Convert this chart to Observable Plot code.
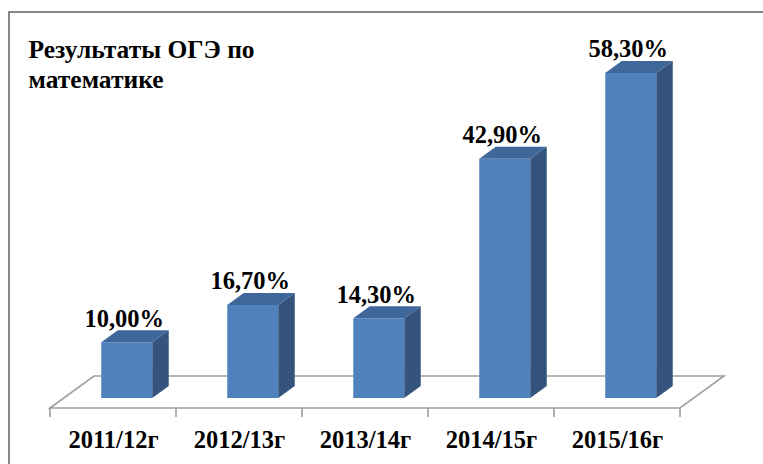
<!DOCTYPE html>
<html><head><meta charset="utf-8">
<script src="https://cdn.jsdelivr.net/npm/d3@7"></script>
<script src="https://cdn.jsdelivr.net/npm/@observablehq/plot@0.6"></script>
<style>
body{margin:0;background:#fff}
#wrap{position:relative;width:763px;height:464px;overflow:hidden}
#frame{position:absolute;left:8px;top:11px;width:900px;height:600px;border-left:2px solid #878787;border-top:2px solid #878787;box-shadow:1px 1px 2px rgba(0,0,0,0.25)}
#chart{position:absolute;left:0;top:0}
</style>
</head><body>
<div id="wrap"><div id="frame"></div><div id="chart"></div></div>
<script>
const categories = ["2011/12г", "2012/13г", "2013/14г", "2014/15г", "2015/16г"];
const values = [10.0, 16.7, 14.3, 42.9, 58.3];
const valueLabels = ["10,00%", "16,70%", "14,30%", "42,90%", "58,30%"];
const titleLines = ["Результаты ОГЭ по", "математике"];

const data = categories.map((c, i) => ({category: c, value: values[i], label: valueLabels[i]}));

// 3D projection of the floor depth (screen px)
const DEPTH_X = 44, DEPTH_Y = -32;
const FRONT = 10 / 32, BACK = 22 / 32;
const BAR_INSET = 37.5;
const FRONT_COLOR = "#4F81BD", TOP_COLOR = "#3F679A", SIDE_COLOR = "#34547E";
const FLOOR_COLOR = "#a0a0a0";
const FONT = "Liberation Serif";

function bw(x) {
  if (x.bandwidth) return x.bandwidth();
  return Math.abs(x(categories[1]) - x(categories[0]));
}

// floor + ticks (drawn behind bars)
function floorMark(index, scales) {
  const x = scales.x, y = scales.y;
  const b = bw(x);
  const x0 = x(categories[0]);
  const x1 = x(categories[categories.length - 1]) + b;
  const yb = y(0) - FRONT * DEPTH_Y; // floor front edge
  const g = d3.create("svg:g").attr("fill", "none").attr("stroke", FLOOR_COLOR).attr("stroke-width", 1.6);
  g.append("path").attr("d", `M${x0},${yb}L${x0 + DEPTH_X},${yb + DEPTH_Y}L${x1 + DEPTH_X},${yb + DEPTH_Y}L${x1},${yb}Z`);
  const bounds = categories.map(c => x(c)).concat([x1]);
  for (const bx of bounds) g.append("path").attr("d", `M${bx},${yb}L${bx},${yb + 9}`);
  return g.node();
}

// side and top faces of each bar
function facesMark(index, scales) {
  const x = scales.x, y = scales.y;
  const b = bw(x);
  const ox = FRONT * DEPTH_X;
  const dX = (BACK - FRONT) * DEPTH_X, dY = (BACK - FRONT) * DEPTH_Y;
  const g = d3.create("svg:g");
  data.forEach(d => {
    const xl = x(d.category) + ox + BAR_INSET;
    const xr = x(d.category) + ox + b - BAR_INSET;
    const yt = y(d.value), y0 = y(0);
    g.append("path").attr("fill", SIDE_COLOR)
      .attr("d", `M${xr},${yt}L${xr + dX},${yt + dY}L${xr + dX},${y0 + dY}L${xr},${y0}Z`);
    g.append("path").attr("fill", TOP_COLOR)
      .attr("d", `M${xl},${yt}L${xr},${yt}L${xr + dX},${yt + dY}L${xl + dX},${yt + dY}Z`);
  });
  return g.node();
}

const chart = Plot.plot({
  width: 763,
  height: 464,
  marginLeft: 48,
  marginRight: 81,
  marginTop: 63.5,
  marginBottom: 66,
  style: {background: "transparent", overflow: "visible"},
  x: {type: "band", domain: categories, padding: 0, axis: null},
  y: {domain: [0, 60], axis: null},
  marks: [
    floorMark,
    Plot.barY(data, {x: "category", y: "value", fill: FRONT_COLOR, insetLeft: BAR_INSET, insetRight: BAR_INSET, dx: FRONT * DEPTH_X}),
    facesMark,
    Plot.text(data, {x: "category", y: "value", text: "label", dx: FRONT * DEPTH_X - 3, dy: -16, lineAnchor: "bottom",
      fontFamily: FONT, fontSize: 24.5, fontWeight: "bold", fill: "#000"}),
    Plot.text(categories, {x: d => d, frameAnchor: "bottom", dy: 49, lineAnchor: "bottom",
      fontFamily: FONT, fontSize: 24.5, fontWeight: "bold", fill: "#000"}),
    Plot.text([titleLines.join("\n")], {frameAnchor: "top-left", dx: -20, dy: 24, lineAnchor: "bottom", textAnchor: "start",
      lineHeight: 30.5 / 25.5, fontFamily: FONT, fontSize: 25.5, fontWeight: "bold", fill: "#000"})
  ]
});
document.getElementById("chart").appendChild(chart);
</script>
</body></html>
